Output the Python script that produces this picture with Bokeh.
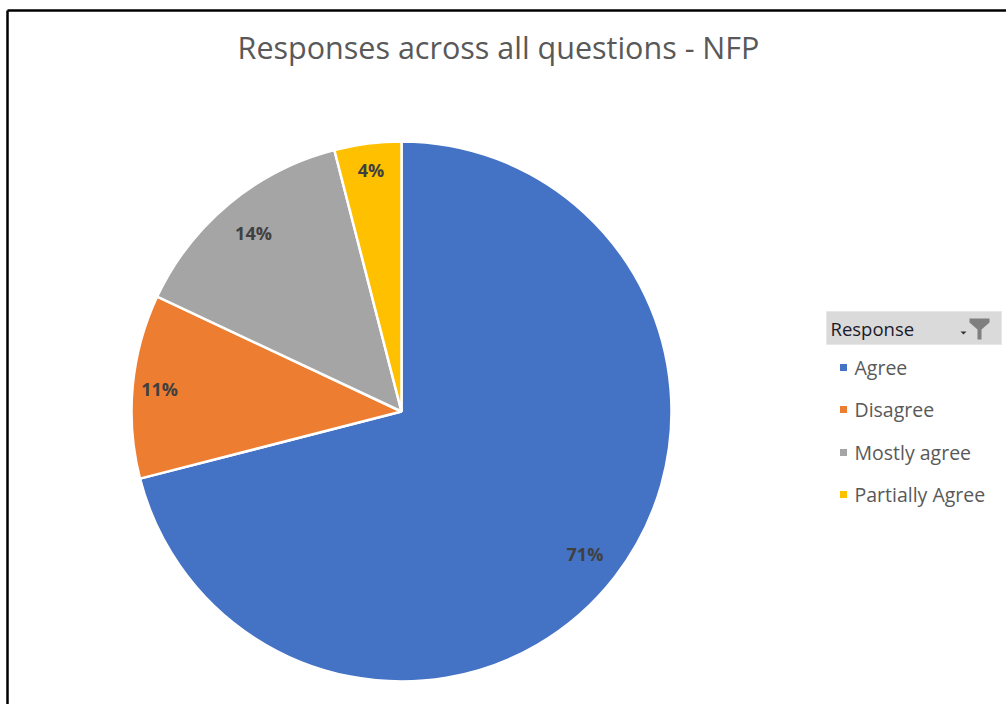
import math
from bokeh.plotting import figure
from bokeh.models import Range1d
from bokeh.core.properties import value
from bokeh.embed import file_html
from bokeh.resources import INLINE

# ---- data ----
categories = ["Agree", "Disagree", "Mostly agree", "Partially Agree"]
shares = [71, 11, 14, 4]
colors = ["#4472C4", "#ED7D31", "#A5A5A5", "#FFC000"]
title_text = "Responses across all questions - NFP"
legend_title = "Response"
label_radius_frac = [0.86, 0.90, 0.86, 0.90]

W, H = 1006, 704
FONT = "Open Sans"


def Y(ys):
    """screen y (from top) -> data y (from bottom)"""
    return H - ys


p = figure(width=W, height=H, output_backend="svg", toolbar_location=None,
           x_range=Range1d(0, W), y_range=Range1d(0, H), min_border=0,
           tools="")
p.axis.visible = False
p.grid.visible = False
p.outline_line_color = None
p.background_fill_color = "white"
p.border_fill_color = "white"

# frame border of the original chart (top and left edges visible)
p.segment(x0=[7, 7], y0=[Y(10), Y(10)], x1=[W, 7], y1=[Y(10), 0],
          line_color="black", line_width=2.5)

# ---- pie ----
cx, cy, R = 401, Y(411), 270
total = sum(shares)
starts, ends, mids = [], [], []
cum = 0.0
for s in shares:
    a0 = math.pi / 2 - 2 * math.pi * cum / total
    cum += s
    a1 = math.pi / 2 - 2 * math.pi * cum / total
    starts.append(a1)
    ends.append(a0)
    mids.append((a0 + a1) / 2)

p.wedge(x=[cx] * len(shares), y=[cy] * len(shares), radius=R,
        start_angle=starts, end_angle=ends, direction="anticlock",
        fill_color=colors, line_color="white", line_width=2.5)

lx = [cx + f * R * math.cos(m) for f, m in zip(label_radius_frac, mids)]
ly = [cy + f * R * math.sin(m) for f, m in zip(label_radius_frac, mids)]
labels = [f"{round(100 * s / total)}%" for s in shares]
p.text(x=lx, y=ly, text=labels, text_font=value(FONT), text_font_style="bold",
       text_font_size="18px", text_color="#404040",
       text_align="center", text_baseline="middle")

# ---- title ----
p.text(x=[498], y=[Y(46)], text=[title_text], text_font=value(FONT),
       text_font_size="30.5px", text_color="#595959",
       text_align="center", text_baseline="middle")

# ---- legend (pivot-chart style) ----
hx0, hx1, hy0, hy1 = 826, 1001, Y(311), Y(344)
p.quad(left=[hx0], right=[hx1], bottom=[hy1], top=[hy0],
       fill_color="#DADADA", line_color="#E6E6E6", line_width=1)
p.text(x=[830], y=[(hy0 + hy1) / 2], text=[legend_title], text_font=value(FONT),
       text_font_size="18.5px", text_color="#1A1A2A",
       text_align="left", text_baseline="middle")
# filter icon
p.patch(x=[969, 989, 989, 981, 981, 977, 977, 969],
        y=[Y(318), Y(318), Y(322), Y(329), Y(339), Y(339), Y(329), Y(322)],
        fill_color="#7F7F7F", line_color=None)
p.patch(x=[960, 966, 963], y=[Y(331), Y(331), Y(334)],
        fill_color="#333333", line_color=None)

item_y = [Y(367), Y(409), Y(452), Y(494)]
p.rect(x=[843] * len(categories), y=item_y, width=7, height=7,
       fill_color=colors, line_color=None)
p.text(x=[854] * len(categories), y=item_y, text=categories,
       text_font=value(FONT), text_font_size="19.5px", text_color="#595959",
       text_align="left", text_baseline="middle")

open("out.html", "w").write(file_html(p, INLINE))
